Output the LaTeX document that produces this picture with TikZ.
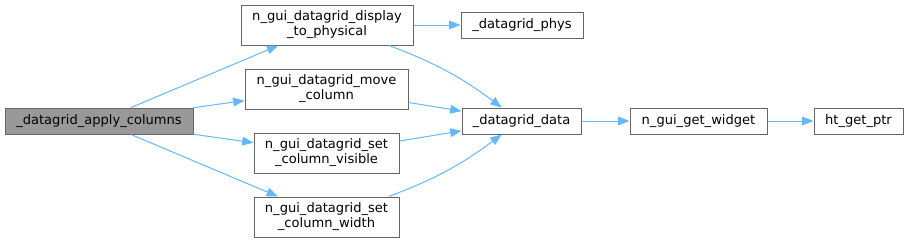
\documentclass[tikz,border=0pt]{standalone}
\usepackage{fontspec}
\setmainfont{DejaVu Sans}
\usetikzlibrary{arrows.meta}
\definecolor{edgeblue}{HTML}{63B8FF}
\definecolor{boxgray}{HTML}{666666}
\definecolor{rootgray}{HTML}{999999}
\begin{document}
\begin{tikzpicture}[x=0.75pt,y=-0.75pt,
  fn/.style={draw=boxgray,line width=0.75pt,fill=white,inner sep=0pt,align=center,
    font=\fontsize{9.8}{11.25}\selectfont},
  rootfn/.style={fn,fill=rootgray},
  call/.style={draw=edgeblue,line width=0.75pt,-{Triangle[length=8.5pt,width=6.5pt]}}]
\useasboundingbox (0,0) rectangle (908,243);

\node[rootfn,minimum width=141pt,minimum height=19.5pt] (apply) at (99,121) {\_datagrid\_apply\_columns};

\node[fn,minimum width=129pt,minimum height=30pt] (display) at (327,25) {n\_gui\_datagrid\_display\\\_to\_physical};
\node[fn,minimum width=122.25pt,minimum height=30pt] (move) at (326.5,89) {n\_gui\_datagrid\_move\\\_column};
\node[fn,minimum width=108.75pt,minimum height=30pt] (visible) at (326.5,153) {n\_gui\_datagrid\_set\\\_column\_visible};
\node[fn,minimum width=108.75pt,minimum height=30pt] (width) at (326.5,217) {n\_gui\_datagrid\_set\\\_column\_width};

\node[fn,minimum width=91.5pt,minimum height=19.5pt] (phys) at (522,25) {\_datagrid\_phys};
\node[fn,minimum width=89.25pt,minimum height=19.5pt] (data) at (521.5,121) {\_datagrid\_data};
\node[fn,minimum width=102.75pt,minimum height=19.5pt] (widget) at (698.5,121) {n\_gui\_get\_widget};
\node[fn,minimum width=66.75pt,minimum height=19.5pt] (ht) at (858.5,121) {ht\_get\_ptr};

\draw[call] (apply) -- (display);
\draw[call] (apply) -- (move);
\draw[call] (apply) -- (visible);
\draw[call] (apply) -- (width);

\draw[call] (display) -- (phys);
\draw[call] (display) to[bend left=8] (data);
\draw[call] (move) -- (data);
\draw[call] (visible) -- (data);
\draw[call] (width) to[bend right=8] (data);

\draw[call] (data) -- (widget);
\draw[call] (widget) -- (ht);
\end{tikzpicture}
\end{document}
